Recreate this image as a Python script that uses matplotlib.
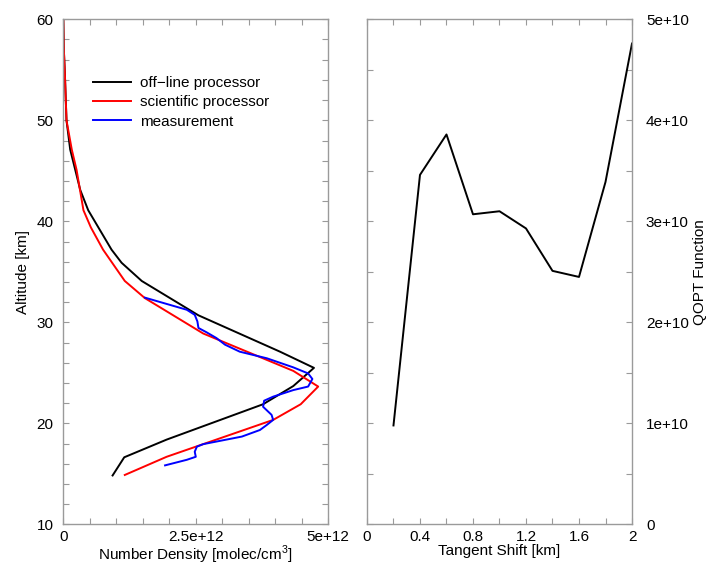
import numpy as np
import matplotlib
matplotlib.use("Agg")
import matplotlib.pyplot as plt
from matplotlib.ticker import FixedLocator, MultipleLocator

plt.rcParams["font.family"] = ["Liberation Sans", "DejaVu Sans"]
plt.rcParams["mathtext.fontset"] = "custom"
plt.rcParams["mathtext.rm"] = "Liberation Sans"
plt.rcParams["font.size"] = 11

# ==========================================================
# Data
# ==========================================================

# off-line processor (number density in 1e12 molec/cm3, altitude km)
offline_nd = [0.0, 0.01, 0.03, 0.06, 0.13, 0.32, 0.47, 0.91, 1.10, 1.48,
              2.55, 4.09, 4.73, 4.34, 3.77, 1.95, 1.15, 0.93]
offline_alt = [60.0, 57.0, 54.5, 50.0, 47.1, 43.1, 41.1, 37.2, 35.9, 34.1,
               30.7, 27.1, 25.5, 23.7, 21.9, 18.4, 16.65, 14.85]

# scientific processor
sci_nd = [0.0, 0.01, 0.03, 0.06, 0.16, 0.25, 0.38, 0.52, 0.75, 1.16, 1.54,
          2.64, 4.34, 4.81, 4.48, 3.96, 1.95, 1.16]
sci_alt = [60.0, 57.0, 54.5, 50.0, 47.1, 45.1, 41.1, 39.4, 37.2, 34.1, 32.4,
           28.9, 25.2, 23.65, 21.9, 20.35, 16.7, 14.9]

# measurement
meas_nd = [1.54, 2.33, 2.48, 2.53, 2.55, 2.71, 2.89, 3.05, 3.33, 3.84,
           4.34, 4.62, 4.70, 4.62, 4.34, 3.96, 3.79, 3.77, 3.93, 3.96,
           3.84, 3.71, 3.37, 2.64, 2.52, 2.48, 2.50, 2.33, 1.92]
meas_alt = [32.45, 31.25, 30.75, 30.1, 29.45, 29.0, 28.45, 27.8, 27.1, 26.45,
            25.55, 24.95, 24.4, 23.65, 23.3, 22.65, 22.25, 21.65, 20.85, 20.35,
            19.85, 19.35, 18.7, 17.95, 17.7, 17.2, 16.7, 16.4, 15.85]

# QOPT function vs tangent shift
shift = [0.2, 0.4, 0.6, 0.8, 1.0, 1.2, 1.4, 1.6, 1.8, 2.0]
qopt = [9.8, 34.6, 38.6, 30.7, 31.0, 29.3, 25.1, 24.5, 33.9, 47.6]  # 1e9

offline_nd = np.array(offline_nd) * 1e12
sci_nd = np.array(sci_nd) * 1e12
meas_nd = np.array(meas_nd) * 1e12
qopt = np.array(qopt) * 1e9

# ==========================================================
# Figure
# ==========================================================

fig = plt.figure(figsize=(7.09, 5.67), dpi=100)
ax1 = fig.add_axes([0.0893, 0.075, 0.3737, 0.891])
ax2 = fig.add_axes([0.5176, 0.075, 0.3738, 0.891])

frame = "#9a9a9a"


def style(ax):
    for s in ax.spines.values():
        s.set_color(frame)
        s.set_linewidth(1.0)
    ax.tick_params(which="both", direction="in", top=True, right=True,
                   color=frame, width=0.8, labelsize=11, length=4)
    ax.tick_params(axis="x", pad=4)
    ax.tick_params(axis="y", pad=7)


# left panel
ax1.plot(offline_nd, offline_alt, color="black", lw=1.4, label="off\u2212line processor")
ax1.plot(sci_nd, sci_alt, color="red", lw=1.4, label="scientific processor")
ax1.plot(meas_nd, meas_alt, color="blue", lw=1.4, label="measurement")

ax1.set_xlim(0, 5e12)
ax1.set_ylim(10, 60)
ax1.xaxis.set_major_locator(FixedLocator([0, 2.5e12, 5e12]))
ax1.set_xticklabels(["0", "2.5e+12", "5e+12"])
ax1.xaxis.set_minor_locator(MultipleLocator(0.5e12))
ax1.yaxis.set_major_locator(MultipleLocator(10))
ax1.yaxis.set_minor_locator(MultipleLocator(2))
ax1.set_xlabel("Number Density [molec/cm$^3$]", labelpad=0)
ax1.set_ylabel("Altitude [km]", labelpad=5)
style(ax1)

ax1.legend(loc="upper left", bbox_to_anchor=(0.113, 0.888), frameon=False,
           handlelength=2.5, handletextpad=0.55, labelspacing=0.35,
           borderaxespad=0, borderpad=0, fontsize=11)

# right panel
ax2.plot(shift, qopt, color="black", lw=1.4)
ax2.set_xlim(0, 2)
ax2.set_ylim(0, 5e10)
ax2.xaxis.set_major_locator(FixedLocator([0, 0.4, 0.8, 1.2, 1.6, 2.0]))
ax2.set_xticklabels(["0", "0.4", "0.8", "1.2", "1.6", "2"])
ax2.xaxis.set_minor_locator(MultipleLocator(0.2))
ax2.yaxis.tick_right()
ax2.set_yticks([0, 1e10, 2e10, 3e10, 4e10, 5e10])
ax2.set_yticklabels(["0", "1e+10", "2e+10", "3e+10", "4e+10", "5e+10"])
ax2.yaxis.set_minor_locator(MultipleLocator(0.5e10))
ax2.set_xlabel("Tangent Shift [km]", labelpad=0)
style(ax2)
ax2.tick_params(which="both", left=True, labelleft=False, right=True, labelright=True)
ax2.tick_params(axis="y", pad=10)

# right-hand axis title, placed by hand so it stays inside the canvas
fig.text(700 / 709, 0.5 + 0.075 / 2 - 0.034 / 2, "QOPT Function", rotation=90,
         ha="center", va="center", fontsize=11)

fig.savefig("out.png", dpi=100)
